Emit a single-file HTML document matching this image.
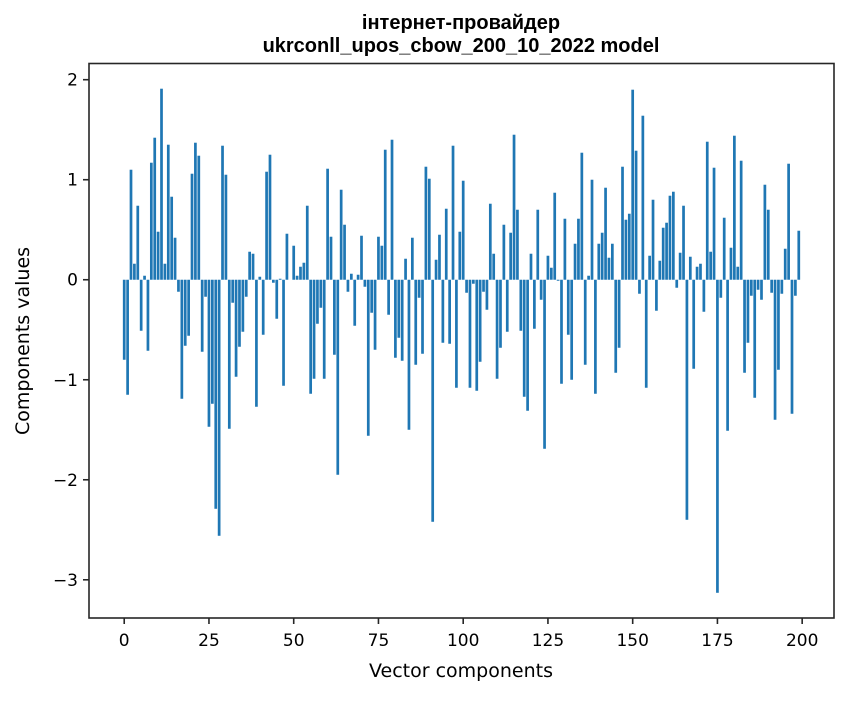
<!DOCTYPE html>
<html><head><meta charset="utf-8"><style>
body{margin:0;background:#fff;}
svg text{font-family:"DejaVu Sans","Liberation Sans",sans-serif;fill:#000;}
svg text.title{font-family:"Liberation Sans","DejaVu Sans",sans-serif;}
</style></head><body>
<svg id="chart" width="847" height="696" viewBox="0 0 847 696" xmlns="http://www.w3.org/2000/svg">
<text class="title" x="461" y="29" text-anchor="middle" font-size="20" font-weight="bold">інтернет-провайдер</text>
<text class="title" x="461" y="52" text-anchor="middle" font-size="20" font-weight="bold">ukrconll_upos_cbow_200_10_2022 model</text>
<g id="bars"></g>
<g id="axes"></g>
<rect x="89" y="63.5" width="745" height="554.5" fill="none" stroke="#262626" stroke-width="1.6"/>
<text x="461" y="677" text-anchor="middle" font-size="19">Vector components</text>
<text transform="translate(29,341) rotate(-90)" text-anchor="middle" font-size="19">Components values</text>
</svg>
<script>
const values = [-0.80,-1.15,1.10,0.16,0.74,-0.51,0.04,-0.71,1.17,1.42,0.48,1.91,0.16,1.35,0.83,0.42,-0.12,-1.19,-0.66,-0.56,
1.06,1.37,1.24,-0.72,-0.17,-1.47,-1.24,-2.29,-2.56,1.34,1.05,-1.49,-0.23,-0.97,-0.67,-0.52,-0.17,0.28,0.26,-1.27,
0.03,-0.55,1.08,1.25,-0.03,-0.39,0.01,-1.06,0.46,0.0,0.34,0.04,0.13,0.17,0.74,-1.14,-0.99,-0.44,-0.28,-0.99,
1.11,0.43,-0.75,-1.95,0.90,0.55,-0.12,0.06,-0.46,0.05,0.44,-0.07,-1.56,-0.33,-0.70,0.43,0.34,1.30,-0.35,1.40,
-0.78,-0.58,-0.81,0.21,-1.50,0.42,-0.85,-0.18,-0.74,1.13,1.01,-2.42,0.20,0.45,-0.63,0.71,-0.64,1.34,-1.08,0.48,
0.99,-0.13,-1.08,-0.04,-1.11,-0.82,-0.12,-0.30,0.76,0.26,-0.99,-0.68,0.55,-0.52,0.47,1.45,0.70,-0.51,-1.17,-1.31,
0.26,-0.49,0.70,-0.20,-1.69,0.24,0.12,0.87,-0.01,-1.04,0.61,-0.55,-1.00,0.36,0.61,1.27,-0.85,0.04,1.00,-1.14,
0.36,0.47,0.92,0.22,0.36,-0.93,-0.68,1.13,0.60,0.66,1.90,1.29,-0.14,1.64,-1.08,0.24,0.80,-0.31,0.19,0.52,
0.57,0.84,0.88,-0.08,0.27,0.74,-2.40,0.23,-0.89,0.13,0.16,-0.32,1.38,0.28,1.12,-3.13,-0.18,0.62,-1.51,0.32,
1.44,0.13,1.19,-0.93,-0.63,-0.16,-1.18,-0.10,-0.20,0.95,0.70,-0.13,-1.40,-0.90,-0.14,0.31,1.16,-1.34,-0.16,0.49];
const xTicks = [0,25,50,75,100,125,150,175,200];
const yTicks = [-3,-2,-1,0,1,2];

const L=89,R=834,T=63.5,B=618;
const n=values.length;
const bw=0.8;
const xmin0=-bw/2, xmax0=(n-1)+bw/2, xr=xmax0-xmin0;
const xmin=xmin0-0.05*xr, xmax=xmax0+0.05*xr;
let vmin=Math.min(0,...values), vmax=Math.max(0,...values);
const yr=vmax-vmin;
const ymin=vmin-0.05*yr, ymax=vmax+0.05*yr;
function xs(v){return L+(v-xmin)/(xmax-xmin)*(R-L);}
function ys(v){return B-(v-ymin)/(ymax-ymin)*(B-T);}
const NS="http://www.w3.org/2000/svg";
const bars=document.getElementById('bars');
values.forEach((v,i)=>{
  const r=document.createElementNS(NS,'rect');
  
  
  const x0=xs(i-bw/2), x1=xs(i+bw/2);
  const y0=ys(Math.max(0,v)), y1=ys(Math.min(0,v));
  r.setAttribute('x',x0);r.setAttribute('width',x1-x0);
  r.setAttribute('y',y0);r.setAttribute('height',Math.max(0,y1-y0));
  r.setAttribute('fill','#1f77b4');
  bars.appendChild(r);
});
const axes=document.getElementById('axes');
xTicks.forEach(t=>{
  const x=xs(t);
  const l=document.createElementNS(NS,'line');
  
  
  l.setAttribute('x1',x);l.setAttribute('x2',x);l.setAttribute('y1',B);l.setAttribute('y2',B+6);
  l.setAttribute('stroke','#262626');l.setAttribute('stroke-width','1.6');
  axes.appendChild(l);
  const tx=document.createElementNS(NS,'text');
  
  
  tx.setAttribute('x',x);tx.setAttribute('y',B+28);
  tx.setAttribute('text-anchor','middle');tx.setAttribute('font-size','17');
  tx.textContent=t;
  axes.appendChild(tx);
});
yTicks.forEach(t=>{
  const y=ys(t);
  const l=document.createElementNS(NS,'line');
  
  
  l.setAttribute('x1',L-6);l.setAttribute('x2',L);l.setAttribute('y1',y);l.setAttribute('y2',y);
  l.setAttribute('stroke','#262626');l.setAttribute('stroke-width','1.6');
  axes.appendChild(l);
  const tx=document.createElementNS(NS,'text');
  
  
  tx.setAttribute('x',L-11);tx.setAttribute('y',y+6);
  tx.setAttribute('text-anchor','end');tx.setAttribute('font-size','17');
  tx.textContent=(t<0?'\u2212'+Math.abs(t):String(t));
  axes.appendChild(tx);
});
</script>
</body></html>
